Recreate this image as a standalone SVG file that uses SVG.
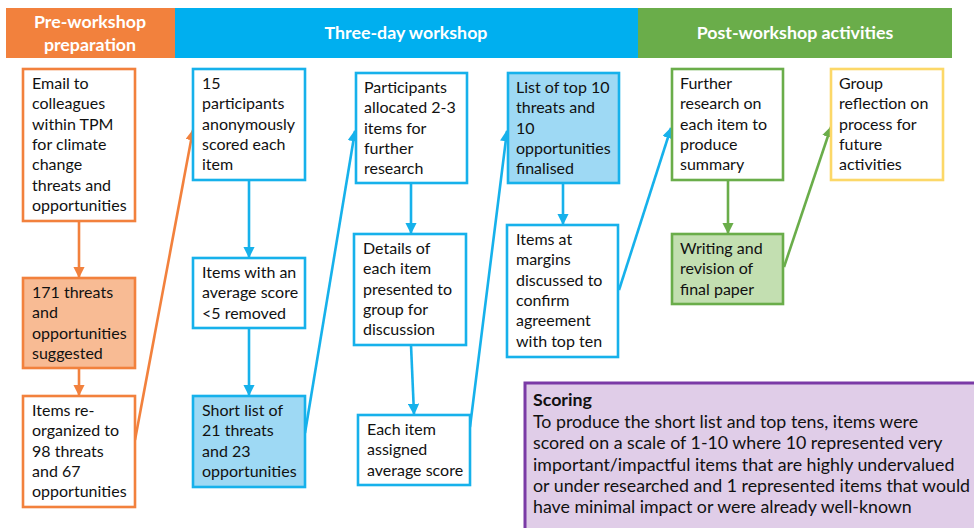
<svg xmlns="http://www.w3.org/2000/svg" width="974" height="528" viewBox="0 0 974 528">
<style>
.t{font-family:Lato,"Open Sans","Liberation Sans",sans-serif;font-size:16px;fill:#111}
.h{font-family:Lato,"Open Sans","Liberation Sans",sans-serif;font-size:17.8px;font-weight:bold;fill:#fff;text-anchor:middle}
.o{stroke:#F2813D;stroke-width:2.6}
.b{stroke:#16B1EB;stroke-width:2.6}
.g{stroke:#6AAD4A;stroke-width:2.6}
.y{stroke:#FCD868;stroke-width:2.6}
.cn line{fill:none}
</style>
<defs>
<marker id="ao" viewBox="0 0 10 10" refX="9" refY="5" markerWidth="4.4" markerHeight="4.4" orient="auto" markerUnits="strokeWidth"><path d="M0,0L10,5L0,10z" fill="#F2813D"/></marker>
<marker id="ab" viewBox="0 0 10 10" refX="9" refY="5" markerWidth="4.4" markerHeight="4.4" orient="auto" markerUnits="strokeWidth"><path d="M0,0L10,5L0,10z" fill="#16B1EB"/></marker>
<marker id="ag" viewBox="0 0 10 10" refX="9" refY="5" markerWidth="4.4" markerHeight="4.4" orient="auto" markerUnits="strokeWidth"><path d="M0,0L10,5L0,10z" fill="#6AAD4A"/></marker>
</defs>
<rect width="974" height="528" fill="#fff"/>
<g id="headers">
<rect x="6" y="8" width="169" height="50" fill="#F2813D"/>
<rect x="175" y="8" width="463" height="50" fill="#00AFEF"/>
<rect x="638" y="8" width="314" height="50" fill="#6AAD4A"/>
<text class="h" x="90" y="28">Pre-workshop</text>
<text class="h" x="90" y="51">preparation</text>
<text class="h" x="406" y="39">Three-day workshop</text>
<text class="h" x="795" y="39">Post-workshop activities</text>
</g>
<g id="connectors" class="cn">
<line class="o" x1="79" y1="221" x2="79" y2="277" marker-end="url(#ao)"/>
<line class="o" x1="79" y1="368" x2="79" y2="395" marker-end="url(#ao)"/>
<line class="o" x1="135" y1="440" x2="193" y2="130" marker-end="url(#ao)"/>
<line class="b" x1="249" y1="180" x2="249" y2="257" marker-end="url(#ab)"/>
<line class="b" x1="249" y1="328" x2="249" y2="395" marker-end="url(#ab)"/>
<line class="b" x1="305" y1="433" x2="355" y2="131" marker-end="url(#ab)"/>
<line class="b" x1="411" y1="183" x2="411" y2="233" marker-end="url(#ab)"/>
<line class="b" x1="411" y1="345" x2="414" y2="414" marker-end="url(#ab)"/>
<line class="b" x1="470" y1="427" x2="507" y2="131" marker-end="url(#ab)"/>
<line class="b" x1="563" y1="183" x2="563" y2="224" marker-end="url(#ab)"/>
<line class="b" x1="619" y1="290" x2="671" y2="128" marker-end="url(#ab)"/>
<line class="g" x1="728" y1="180" x2="728" y2="233" marker-end="url(#ag)"/>
<line class="g" x1="784" y1="267" x2="831" y2="127" marker-end="url(#ag)"/>
</g>
<g id="n-email">
<rect class="o" x="23" y="69" width="112" height="152" fill="#fff"/>
<text class="t" x="32" y="89">Email to<tspan x="32" dy="20.3">colleagues</tspan><tspan x="32" dy="20.3">within TPM</tspan><tspan x="32" dy="20.3">for climate</tspan><tspan x="32" dy="20.3">change</tspan><tspan x="32" dy="20.3">threats and</tspan><tspan x="32" dy="20.3">opportunities</tspan></text>
</g>
<g id="n-171">
<rect class="o" x="23" y="278" width="112" height="90" fill="#F8BB94"/>
<text class="t" x="32" y="298">171 threats<tspan x="32" dy="20.3">and</tspan><tspan x="32" dy="20.3">opportunities</tspan><tspan x="32" dy="20.3">suggested</tspan></text>
</g>
<g id="n-reorg">
<rect class="o" x="23" y="396" width="112" height="111" fill="#fff"/>
<text class="t" x="32" y="416">Items re-<tspan x="32" dy="20.3">organized to</tspan><tspan x="32" dy="20.3">98 threats</tspan><tspan x="32" dy="20.3">and 67</tspan><tspan x="32" dy="20.3">opportunities</tspan></text>
</g>
<g id="n-15">
<rect class="b" x="193" y="69" width="112" height="111" fill="#fff"/>
<text class="t" x="202" y="89">15<tspan x="202" dy="20.3">participants</tspan><tspan x="202" dy="20.3">anonymously</tspan><tspan x="202" dy="20.3">scored each</tspan><tspan x="202" dy="20.3">item</tspan></text>
</g>
<g id="n-avg">
<rect class="b" x="193" y="258" width="112" height="70" fill="#fff"/>
<text class="t" x="202" y="278">Items with an<tspan x="202" dy="20.3">average score</tspan><tspan x="202" dy="20.3">&lt;5 removed</tspan></text>
</g>
<g id="n-short">
<rect class="b" x="193" y="396" width="112" height="91" fill="#9ED9F4"/>
<text class="t" x="202" y="416">Short list of<tspan x="202" dy="20.3">21 threats</tspan><tspan x="202" dy="20.3">and 23</tspan><tspan x="202" dy="20.3">opportunities</tspan></text>
</g>
<g id="n-alloc">
<rect class="b" x="356" y="73" width="111" height="110" fill="#fff"/>
<text class="t" x="364" y="93">Participants<tspan x="364" dy="20.3">allocated 2-3</tspan><tspan x="364" dy="20.3">items for</tspan><tspan x="364" dy="20.3">further</tspan><tspan x="364" dy="20.3">research</tspan></text>
</g>
<g id="n-details">
<rect class="b" x="354" y="234" width="112" height="111" fill="#fff"/>
<text class="t" x="363" y="254">Details of<tspan x="363" dy="20.3">each item</tspan><tspan x="363" dy="20.3">presented to</tspan><tspan x="363" dy="20.3">group for</tspan><tspan x="363" dy="20.3">discussion</tspan></text>
</g>
<g id="n-each">
<rect class="b" x="358" y="415" width="112" height="70" fill="#fff"/>
<text class="t" x="367" y="435">Each item<tspan x="367" dy="20.3">assigned</tspan><tspan x="367" dy="20.3">average score</tspan></text>
</g>
<g id="n-top10">
<rect class="b" x="508" y="73" width="111" height="110" fill="#9ED9F4"/>
<text class="t" x="516" y="93">List of top 10<tspan x="516" dy="20.3">threats and</tspan><tspan x="516" dy="20.3">10</tspan><tspan x="516" dy="20.3">opportunities</tspan><tspan x="516" dy="20.3">finalised</tspan></text>
</g>
<g id="n-margins">
<rect class="b" x="507" y="225" width="111" height="132" fill="#fff"/>
<text class="t" x="516" y="245">Items at<tspan x="516" dy="20.3">margins</tspan><tspan x="516" dy="20.3">discussed to</tspan><tspan x="516" dy="20.3">confirm</tspan><tspan x="516" dy="20.3">agreement</tspan><tspan x="516" dy="20.3">with top ten</tspan></text>
</g>
<g id="n-further">
<rect class="g" x="672" y="69" width="111" height="111" fill="#fff"/>
<text class="t" x="680" y="89">Further<tspan x="680" dy="20.3">research on</tspan><tspan x="680" dy="20.3">each item to</tspan><tspan x="680" dy="20.3">produce</tspan><tspan x="680" dy="20.3">summary</tspan></text>
</g>
<g id="n-writing">
<rect class="g" x="672" y="234" width="111" height="70" fill="#C3DFB1"/>
<text class="t" x="680" y="254">Writing and<tspan x="680" dy="20.3">revision of</tspan><tspan x="680" dy="20.3">final paper</tspan></text>
</g>
<g id="n-group">
<rect class="y" x="831" y="69" width="112" height="111" fill="#fff"/>
<text class="t" x="839" y="89">Group<tspan x="839" dy="20.3">reflection on</tspan><tspan x="839" dy="20.3">process for</tspan><tspan x="839" dy="20.3">future</tspan><tspan x="839" dy="20.3">activities</tspan></text>
</g>
<g id="n-scoring">
<rect x="525" y="383" width="460" height="160" fill="#E0CDE8" stroke="#7A3AA6" stroke-width="3"/>
<text class="t" x="533" y="406" style="font-size:17.8px;font-weight:bold">Scoring</text>
<text class="t" x="533" y="428" style="font-size:17.8px">To produce the short list and top tens, items were<tspan x="533" dy="21.3">scored on a scale of 1-10 where 10 represented very</tspan><tspan x="533" dy="21.3">important/impactful items that are highly undervalued</tspan><tspan x="533" dy="21.3">or under researched and 1 represented items that would</tspan><tspan x="533" dy="21.3">have minimal impact or were already well-known</tspan></text>
</g>
</svg>
